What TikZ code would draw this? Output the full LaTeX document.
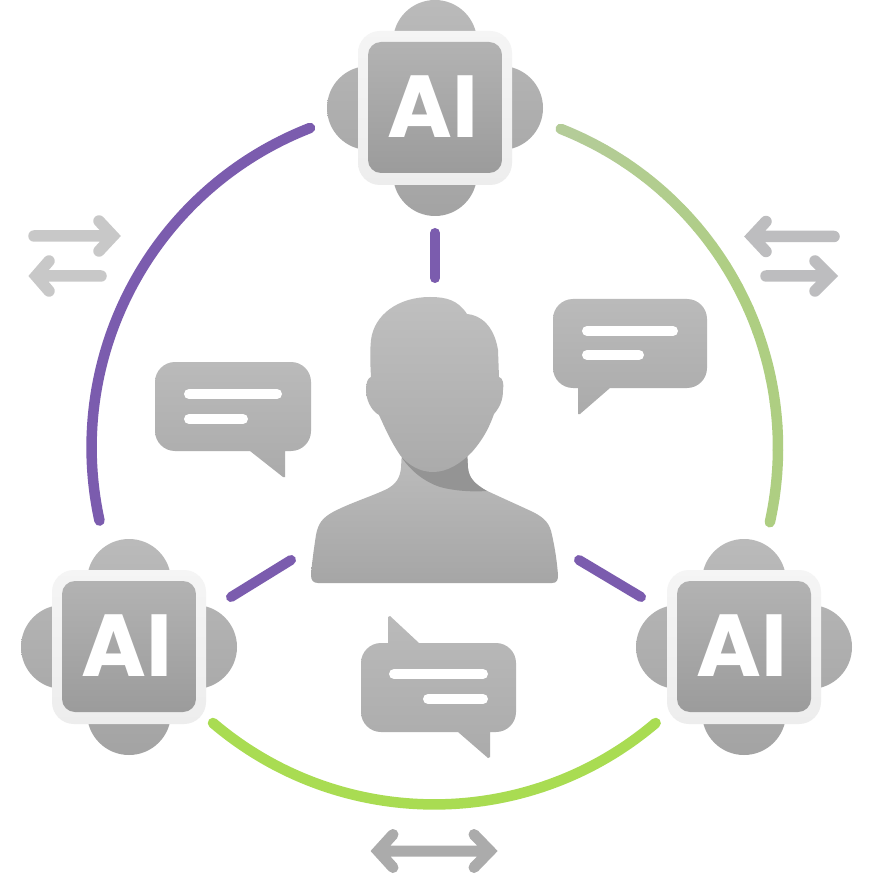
\documentclass[tikz,border=0pt]{standalone}
\usepackage{fontspec}
\setmainfont{Liberation Sans}
\newfontfamily\badgefont{Poppins}[UprightFont=* SemiBold,BoldFont=* Bold]
\definecolor{ringpurple}{HTML}{7B5CAE}
\definecolor{ringlime}{HTML}{A9DC52}
\definecolor{ringsagetop}{HTML}{B4CC98}
\definecolor{ringsagelow}{HTML}{AECE82}
\definecolor{arrowsoft}{HTML}{C8C8C8}
\definecolor{arrowcool}{HTML}{BDBDBF}
\definecolor{arrowmid}{HTML}{ABABAB}
\tikzset{
  x=1pt,y=-1pt,
  ring/.style={line width=10.5pt,line cap=round},
  spoke/.style={line width=10pt,line cap=round,draw=ringpurple},
  framebox/.style={top color=black!4,bottom color=black!7,rounded corners=22pt},
  corebox/.style={top color=black!30,bottom color=black!39,rounded corners=13pt},
  ailabel/.style={text=white,font=\badgefont\bfseries\fontsize{88}{88}\selectfont,inner sep=0pt},
  bubble/.style={top color=black!27,bottom color=black!33},
  bubbleline/.style={line width=10pt,line cap=round,draw=white},
  softarrow/.style={line width=11.5pt,line cap=round,line join=miter,draw=arrowsoft},
  coolarrow/.style={line width=11.5pt,line cap=round,line join=miter,draw=arrowcool},
  midarrow/.style={line width=11pt,line cap=round,line join=miter,draw=arrowmid},
}
\newcommand{\aimodule}[3]{%
  \shade[top color=black!27,bottom color=black!36]
    (#1,#2-66) circle[radius=42pt]
    (#1,#2+66) circle[radius=42pt]
    (#1-66,#2) circle[radius=42pt]
    (#1+66,#2) circle[radius=42pt];
  \shade[framebox] (#1-77,#2-77) rectangle (#1+77,#2+77);
  \shade[corebox] (#1-67,#2-66) rectangle (#1+67,#2+65);
  \node[ailabel] (#3) at (#1-2,#2-1.5) {AI};
}
\begin{document}
\begin{tikzpicture}
\useasboundingbox (0,0) rectangle (875,874);
\fill[white] (0,0) rectangle (875,874);

% ring end points
\coordinate (purpleStart) at (310,128);
\coordinate (limeStart) at (213,723);
\coordinate (hubTop) at (435,233);
\coordinate (topSpoke) at (435,278);
\coordinate (leftOuter) at (231,597);
\coordinate (leftInner) at (291,560);
\coordinate (rightInner) at (579,560);
\coordinate (rightOuter) at (641,597);

% rings
\draw[ring,draw=ringpurple] (purpleStart) arc[start angle=111.3,end angle=192.3,radius=343pt];
\foreach \i in {0,...,19}{
  \pgfmathsetmacro{\sa}{68.5-\i*4.05}
  \pgfmathsetmacro{\ea}{\sa-4.05}
  \pgfmathsetmacro{\mixv}{100-\i*100/10}
  \pgfmathsetmacro{\mixw}{max(\mixv,0)}
  \draw[line width=10.5pt,line cap=round,draw=ringsagetop!\mixw!ringsagelow]
    ({435+343*cos(\sa)},{448-343*sin(\sa)}) arc[start angle=\sa,end angle=\ea,radius=343pt];
}
\draw[ring,draw=ringlime] (limeStart) arc[start angle=229.6,end angle=310.4,radius=341.5pt];

% spokes
\draw[spoke] (hubTop) -- (topSpoke);
\draw[spoke] (leftOuter) -- (leftInner);
\draw[spoke] (rightInner) -- (rightOuter);

% modules
\aimodule{435}{108}{aiTop}
\aimodule{129}{647}{aiLeft}
\aimodule{744}{647}{aiRight}

% person: body, neck shadow, head
\shade[top color=black!26,bottom color=black!35]
  (402,450) -- (401,468) .. controls (400,478) and (396,484) .. (387,489)
  .. controls (370,497) and (350,503) .. (333,512)
  .. controls (322,518) and (318,524) .. (316,535)
  .. controls (314,548) and (312,562) .. (311,575)
  .. controls (311,580) and (313,583) .. (318,583)
  -- (552,583) .. controls (557,583) and (558,580) .. (558,575)
  .. controls (557,562) and (555,548) .. (552,535)
  .. controls (550,524) and (545,518) .. (533,512)
  .. controls (518,505) and (500,497) .. (483,489)
  .. controls (474,484) and (469,478) .. (468,468)
  -- (467,450) -- cycle;
\fill[black!42]
  (402,458) .. controls (412,472) and (425,482) .. (440,487)
  .. controls (455,491) and (472,492) .. (487,491)
  .. controls (475,484) and (469,478) .. (468,468)
  -- (467,450) -- (402,450) -- cycle;
\shade[top color=black!25,bottom color=black!33]
  (430,297) .. controls (446,297) and (458,300) .. (467,314)
  .. controls (480,315) and (494,325) .. (498,350)
  -- (499,377) .. controls (503,378) and (504,384) .. (503,390)
  .. controls (503,400) and (500,407) .. (494,414)
  .. controls (490,425) and (485,437) .. (472,452)
  .. controls (460,464) and (447,472) .. (433,472)
  .. controls (420,472) and (408,465) .. (400,455)
  .. controls (390,440) and (385,428) .. (379,415)
  .. controls (370,410) and (366,398) .. (366,390)
  .. controls (366,382) and (368,378) .. (371,377)
  .. controls (370,360) and (370,350) .. (371,340)
  .. controls (374,315) and (398,297) .. (430,297) -- cycle;

% left bubble
\shade[bubble]
  (175,362) -- (291,362) arc[start angle=90,end angle=0,radius=20pt] -- (311,431)
  arc[start angle=0,end angle=-90,radius=20pt] -- (285,451) -- (285,477) -- (283,477) -- (250,451) -- (175,451)
  arc[start angle=-90,end angle=-180,radius=20pt] -- (155,382)
  arc[start angle=180,end angle=90,radius=20pt] -- cycle;
\draw[bubbleline] (189,394) -- (277,394);
\draw[bubbleline] (189,419) -- (243,419);

% right bubble
\shade[bubble]
  (573,299) -- (687,299) arc[start angle=90,end angle=0,radius=20pt] -- (707,368)
  arc[start angle=0,end angle=-90,radius=20pt] -- (610,388) -- (580,414) -- (578,414) -- (578,388) -- (573,388)
  arc[start angle=-90,end angle=-180,radius=20pt] -- (553,319)
  arc[start angle=180,end angle=90,radius=20pt] -- cycle;
\draw[bubbleline] (587,331) -- (673,331);
\draw[bubbleline] (587,355) -- (639,355);

% bottom bubble
\shade[bubble]
  (381,643) -- (388,643) -- (388,617) -- (390,616) -- (419,643) -- (496,643) arc[start angle=90,end angle=0,radius=20pt]
  -- (516,712) arc[start angle=0,end angle=-90,radius=20pt] -- (490,732) -- (490,757) -- (488,758) -- (458,732) -- (381,732)
  arc[start angle=-90,end angle=-180,radius=20pt] -- (361,663)
  arc[start angle=180,end angle=90,radius=20pt] -- cycle;
\draw[bubbleline] (394,674) -- (483,674);
\draw[bubbleline] (428,699) -- (483,699);

% arrows
\draw[softarrow] (34,236) -- (112,236) (99,221) -- (113,236) -- (99,251);
\draw[softarrow] (101,276) -- (37,276) (49,261) -- (36,276) -- (49,291);
\draw[coolarrow] (834,236.5) -- (753,236.5) (766,221.5) -- (752,236.5) -- (766,251.5);
\draw[coolarrow] (766,276) -- (829,276) (815,261) -- (830,276) -- (815,291);
\draw[midarrow] (379,851) -- (489,851) (393,834.5) -- (378,851) -- (393,867.5) (474,834.5) -- (490,851) -- (474,867.5);
\end{tikzpicture}
\end{document}
